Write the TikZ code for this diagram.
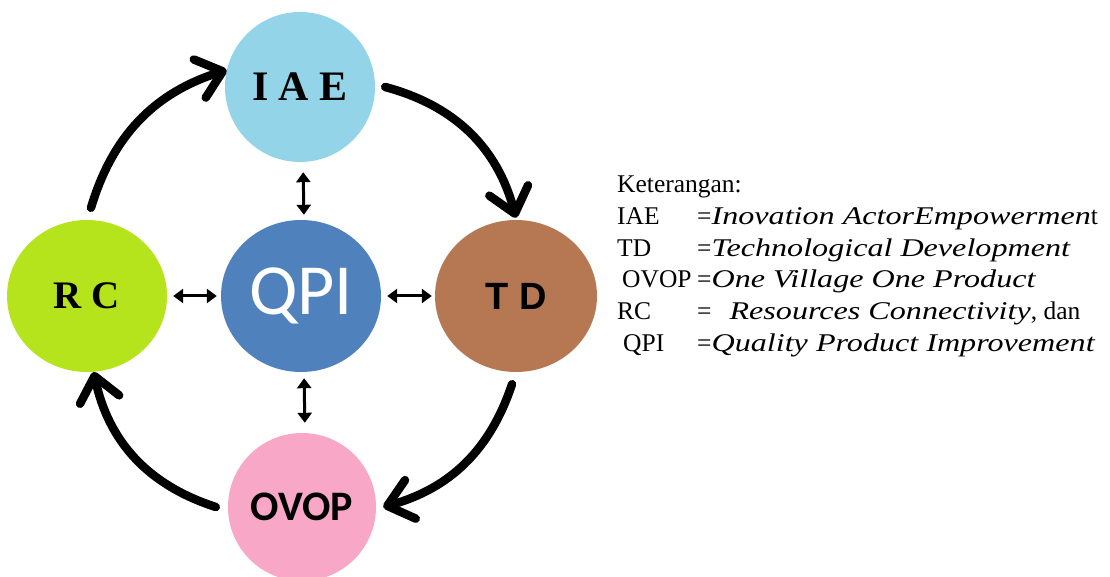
\documentclass[tikz,border=0pt]{standalone}
\usepackage{fontspec}
\setmainfont{Liberation Serif}
\newfontfamily\wideit{Liberation Serif Italic}[FakeStretch=1.26]
\newfontfamily\tnr{Liberation Serif}
\newfontfamily\calib{Carlito}
\newfontfamily\arialf{Liberation Sans}
\usetikzlibrary{arrows.meta,shapes.geometric}
\definecolor{iaec}{HTML}{93D4E8}
\definecolor{rcc}{HTML}{B6E41C}
\definecolor{qpic}{HTML}{4F81BD}
\definecolor{tdc}{HTML}{B57852}
\definecolor{ovopc}{HTML}{F8A8C6}
\tikzset{
  disc/.style={ellipse, draw=none, inner sep=0pt, text=black},
  bigarrow/.style={line width=8.5pt, line cap=round,
    -{Straight Barb[length=24pt, width=40pt, round]}},
  duo/.style={line width=3pt,
    {Triangle[length=10pt, width=14pt]}-{Triangle[length=10pt, width=14pt]}},
  legtext/.style={anchor=base west, inner sep=0pt, font=\fontsize{25.5}{25.5}\selectfont}
}
\begin{document}
\begin{tikzpicture}[x=1pt, y=1pt]
\path[use as bounding box] (0,0) rectangle (1110,577);
\clip (0,0) rectangle (1110,577);

% circles
\node[disc, fill=iaec, minimum width=150pt, minimum height=150pt] (iae) at (300,490)
  {\tnr\bfseries\fontsize{42}{42}\selectfont I A E};
\node[disc, fill=rcc, minimum width=160pt, minimum height=152pt] (rc) at (87,281)
  {\tnr\bfseries\fontsize{39}{39}\selectfont R C};
\node[disc, fill=qpic, minimum width=160pt, minimum height=152pt, text=white] (qpi) at (301,281)
  {\calib\fontsize{72}{72}\selectfont QPI};
\node[disc, fill=tdc, minimum width=162pt, minimum height=152pt] (td) at (516,281)
  {\arialf\bfseries\fontsize{38}{38}\selectfont T D};
\node[disc, fill=ovopc, minimum width=148pt, minimum height=148pt] (ovop) at (302,70)
  {\calib\bfseries\fontsize{42}{42}\selectfont OVOP};

% big cycle arrows
\draw[bigarrow] ([xshift=4pt,yshift=12pt]rc.north) to[bend left=28] (iae.167);
\draw[bigarrow] ([xshift=10pt]iae.east) to[bend left=30] ([yshift=2pt]td.north);
\draw[bigarrow] ([xshift=-4pt,yshift=-12pt]td.south) to[bend left=28] ([xshift=7pt]ovop.east);
\draw[bigarrow] ([xshift=-12pt]ovop.west) to[bend left=30] (rc.-85);

% small double arrows
\draw[duo, shorten <=10pt, shorten >=5pt] ([xshift=3pt]iae.south) -- ([xshift=3pt]qpi.north);
\draw[duo, shorten <=6pt, shorten >=10pt] ([xshift=3pt]qpi.south) -- ([xshift=3pt]ovop.north);
\draw[duo, shorten <=6pt, shorten >=4pt] (rc.east) -- (qpi.west);
\draw[duo, shorten <=6pt, shorten >=3pt] (qpi.east) -- (td.west);

% legend
\node[legtext] (k0) at (617,384) {Keterangan:};
\node[legtext] (k1) at (617,352) {IAE};
\node[legtext] (v1) at (697,352) {={\wideit Inovation ActorEmpowermen}t};
\node[legtext] (k2) at (617,320) {TD};
\node[legtext] (v2) at (697,320) {={\wideit Technological Development}};
\node[legtext] (k3) at (622,289) {OVOP};
\node[legtext] (v3) at (697,289) {={\wideit One Village One Product}};
\node[legtext] (k4) at (617,257) {RC};
\node[legtext] (v4) at (697,257) {=\hspace{18pt}{\wideit Resources Connectivity}, dan};
\node[legtext] (k5) at (623,225) {QPI};
\node[legtext] (v5) at (697,225) {={\wideit Quality Product Improvement}};
\end{tikzpicture}
\end{document}
